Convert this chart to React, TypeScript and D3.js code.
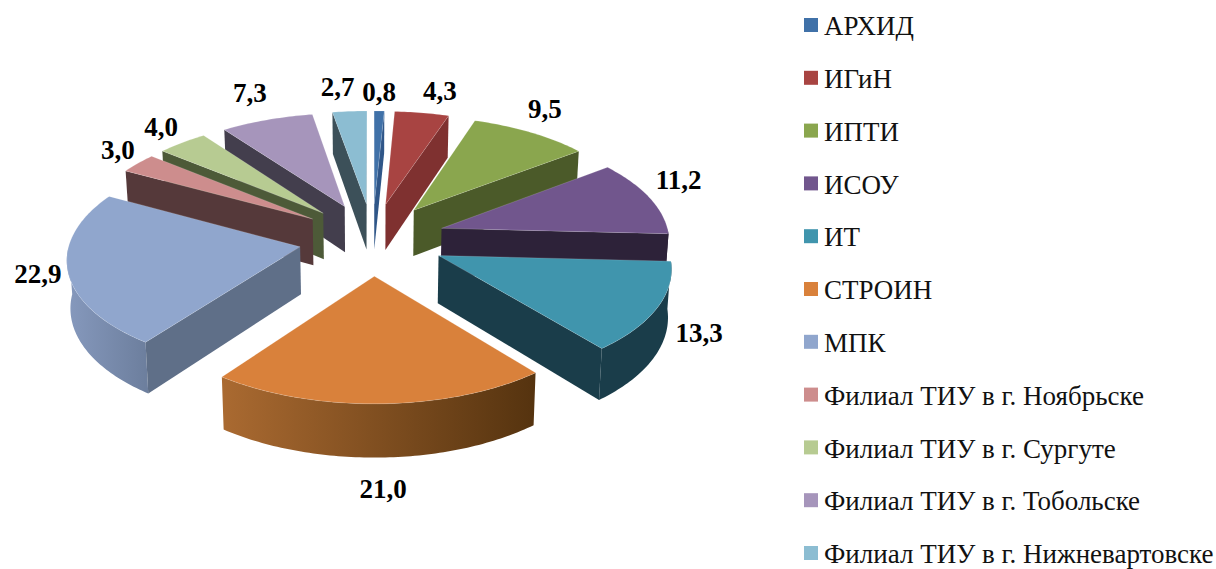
import React from "react";
import * as d3 from "d3";

const categories = ["АРХИД", "ИГиН", "ИПТИ", "ИСОУ", "ИТ", "СТРОИН", "МПК",
  "Филиал ТИУ в г. Ноябрьске", "Филиал ТИУ в г. Сургуте", "Филиал ТИУ в г. Тобольске", "Филиал ТИУ в г. Нижневартовске"];
const values = [0.8, 4.3, 9.5, 11.2, 13.3, 21.0, 22.9, 3.0, 4.0, 7.3, 2.7];

const topColors = ["#4071a8", "#a84442", "#8aa64e", "#71568d", "#4095ad", "#d9813b", "#90a6cd", "#cd8d8d", "#b7cb92", "#a695bb", "#8cbdd2"];
const faceColors = ["#2f5688", "#7f3130", "#4b5a29", "#2d2239", "#1a3d4a", "#5a3415", "#5f6f88", "#55393a", "#4d5a38", "#433e4d", "#3c5059"];
const wallFrom = ["#2f5688", "#7f3130", "#4b5a29", "#2d2239", "#1a3d4a", "#aa6a31", "#8699bd", "#55393a", "#4d5a38", "#433e4d", "#3c5059"];
const wallTo = ["#2f5688", "#7f3130", "#4b5a29", "#2d2239", "#1a3d4a", "#55330f", "#6d7f9e", "#55393a", "#4d5a38", "#433e4d", "#3c5059"];

// label offsets (px) from the middle of each slice's outer rim
const labelDx = [0, 18, 14, 29, 42, 2, -30, -20, -21, -17, -12];
const labelDy = [-19, -22, -23, -18, 25, 85, 3, -13, -16, -27, -24];

const xScale = d3.scaleLinear().domain([-1, 0, 1]).range([142.5, 372.5, 600.5]);
const yScale = d3.scaleLinear().domain([0, 1]).range([239, 347]);
const legendRow = d3.scaleLinear().domain([0, 10]).range([25, 553]);
const PERSPECTIVE = 0.094;
const DEPTH = 47;
const DEPTH_SHRINK = 0.012;
const EXPLODE_U = 0.32;
const EXPLODE_V = 0.335;

type P = [number, number];
const w = (v: number) => 1 / (1 - PERSPECTIVE * v);
const proj = (u: number, v: number, down = 0): P => [
  xScale(u * w(v) * (1 - (DEPTH_SHRINK * down) / DEPTH)),
  yScale(v * w(v)) + down * w(v),
];

const pieGen = d3.pie<number>().sort(null).startAngle(0).endAngle(2 * Math.PI);
const arcs = pieGen(values);
const line = d3.line();

function slice(i: number) {
  const a = arcs[i];
  const m = (a.startAngle + a.endAngle) / 2;
  const ou = Math.sin(m) * EXPLODE_U;
  const ov = -Math.cos(m) * EXPLODE_V;
  const rim = (t: number, down = 0) => proj(ou + Math.sin(t), ov - Math.cos(t), down);
  const tip = (down = 0) => proj(ou, ov, down);
  const sample = (t0: number, t1: number) => {
    const n = Math.max(2, Math.ceil((t1 - t0) * 60));
    return d3.range(n + 1).map((k) => t0 + ((t1 - t0) * k) / n);
  };
  const angles = sample(a.startAngle, a.endAngle);
  const top = line([tip(), ...angles.map((t) => rim(t))]) + "Z";

  const wl = Math.max(a.startAngle, Math.PI / 2);
  const wr = Math.min(a.endAngle, (3 * Math.PI) / 2);
  let wall: string | null = null;
  let xr: P = [0, 1];
  if (wr > wl) {
    const ws = sample(wl, wr);
    const up = ws.map((t) => rim(t));
    const dn = ws.slice().reverse().map((t) => rim(t, DEPTH));
    wall = line([...up, ...dn]) + "Z";
    xr = d3.extent(up, (p) => p[0]) as P;
  }
  const T = tip();
  const cross = (a1: P, b1: P) => a1[0] * b1[1] - a1[1] * b1[0];
  const face = (t: number, other: number) => {
    const R = rim(t);
    const Q = rim(other);
    const e: P = [R[0] - T[0], R[1] - T[1]];
    const visible = cross(e, [Q[0] - T[0], Q[1] - T[1]]) * cross(e, [0, 1]) < 0;
    return visible ? line([T, R, rim(t, DEPTH), tip(DEPTH)]) + "Z" : null;
  };
  const faces = [face(a.startAngle, a.endAngle), face(a.endAngle, a.startAngle)].filter(Boolean) as string[];
  const labelAt = rim(m);
  return { i, top, wall, xr, faces, labelAt, order: -Math.cos(m) };
}

const slices = values.map((_, i) => slice(i)).sort((a, b) => a.order - b.order);
const fmt = (v: number) => v.toFixed(1).replace(".", ",");
const SERIF = "'Liberation Serif', 'Times New Roman', serif";

export default function App() {
  return (
    <svg width={1216} height={569} style={{ position: "absolute", left: 0, top: 0, display: "block", background: "#fff" }}>
      <defs>
        {slices.filter((s) => s.wall).map((s) => (
          <linearGradient key={s.i} id={`wall${s.i}`} gradientUnits="userSpaceOnUse" x1={s.xr[0]} x2={s.xr[1]} y1={0} y2={0}>
            <stop offset="0" stopColor={wallFrom[s.i]} />
            <stop offset="1" stopColor={wallTo[s.i]} />
          </linearGradient>
        ))}
      </defs>
      {slices.map((s) => (
        <g key={s.i}>
          {s.wall && <path d={s.wall} fill={`url(#wall${s.i})`} />}
          {s.faces.map((d, k) => <path key={k} d={d} fill={faceColors[s.i]} />)}
          <path d={s.top} fill={topColors[s.i]} stroke="#fff" strokeOpacity={0.2} strokeWidth={0.8} />
        </g>
      ))}
      {slices.map((s) => (
        <text key={s.i} x={s.labelAt[0] + labelDx[s.i]} y={s.labelAt[1] + labelDy[s.i]} dy="0.33em"
          textAnchor="middle" fontFamily={SERIF} fontWeight="bold" fontSize={27} fill="#000">
          {fmt(values[s.i])}
        </text>
      ))}
      {categories.map((c, i) => (
        <g key={c}>
          <rect x={804} y={legendRow(i) - 7} width={14} height={14} fill={topColors[i]} />
          <text x={824} y={legendRow(i)} dy="0.38em" fontFamily={SERIF} fontSize={27} fill="#111">{c}</text>
        </g>
      ))}
    </svg>
  );
}
